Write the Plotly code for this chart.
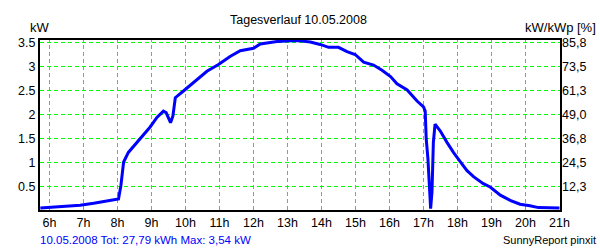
import plotly.graph_objects as go

# ---- data ----
hours = [5.73, 6.07, 6.41, 6.90, 7.30, 7.69, 8.03, 8.10, 8.18, 8.32, 8.57, 8.86, 8.96,
         9.16, 9.35, 9.43, 9.56, 9.63, 9.70, 9.94, 10.24, 10.63, 10.97, 11.31, 11.61,
         12.00, 12.20, 12.44, 12.69, 12.98, 13.30, 13.67, 13.96, 14.21, 14.50, 14.75,
         14.99, 15.24, 15.53, 15.78, 16.03, 16.22, 16.52, 16.81, 17.00, 17.05, 17.08,
         17.13, 17.18, 17.21, 17.25, 17.29, 17.34, 17.49, 17.69, 17.79, 17.88, 18.08,
         18.28, 18.48, 18.76, 18.96, 19.26, 19.55, 19.84, 20.13, 20.38, 21.00]
power_kw = [0.05, 0.07, 0.09, 0.11, 0.15, 0.19, 0.24, 0.52, 1.01, 1.21, 1.42, 1.68, 1.74,
            1.94, 2.07, 2.04, 1.83, 1.97, 2.35, 2.49, 2.66, 2.90, 3.04, 3.21, 3.33,
            3.38, 3.47, 3.50, 3.52, 3.53, 3.54, 3.51, 3.46, 3.40, 3.40, 3.31,
            3.25, 3.09, 3.03, 2.92, 2.79, 2.64, 2.51, 2.28, 2.16, 2.07, 1.49,
            1.08, 0.39, 0.04, 0.39, 1.42, 1.80, 1.66, 1.42, 1.30, 1.21, 1.02,
            0.83, 0.70, 0.56, 0.49, 0.32, 0.21, 0.13, 0.10, 0.06, 0.05]

x_tickvals = [6, 7, 8, 9, 10, 11, 12, 13, 14, 15, 16, 17, 18, 19, 20, 21]
x_ticktext = ["6h", "7h", "8h", "9h", "10h", "11h", "12h", "13h", "14h", "15h",
              "16h", "17h", "18h", "19h", "20h", "21h"]
y_tickvals = [0.5, 1, 1.5, 2, 2.5, 3, 3.5]
y_ticktext = ["0.5", "1", "1.5", "2", "2.5", "3", "3.5"]
y2_ticktext = ["12,3", "24,5", "36,8", "49,0", "61,3", "73,5", "85,8"]

title_text = "Tagesverlauf 10.05.2008"
footer_left = "10.05.2008 Tot: 27,79 kWh Max: 3,54 kW"
footer_right = "SunnyReport pinxit"

FONT = "Arial, 'Liberation Sans', sans-serif"
# ranges chosen so grid lines land on pixel centres (34 px/h, 48 px/kW)
X_RANGE = [6 - 9.5 / 34, 6 - 9.5 / 34 + 520 / 34]
Y_RANGE = [3.5 - 167.5 / 48, 3.5 + 2.5 / 48]
GRID = dict(color="#00FF00", width=1, dash="4px,3px")

fig = go.Figure()
fig.add_trace(go.Scatter(x=hours, y=power_kw, mode="lines",
                         line=dict(color="#0000FF", width=3),
                         showlegend=False, hoverinfo="skip"))

shapes = []
for xv in x_tickvals[:-1]:
    shapes.append(dict(type="line", xref="x", yref="paper", x0=xv, x1=xv, y0=0, y1=1,
                       line=GRID, layer="below"))
for yv in y_tickvals:
    shapes.append(dict(type="line", xref="paper", yref="y", x0=0, x1=1, y0=yv, y1=yv,
                       line=GRID, layer="below"))

annotations = [
    dict(text=title_text, xref="paper", yref="paper", x=0.4975, y=1 + 20 / 170,
         xanchor="center", yanchor="middle", showarrow=False,
         font=dict(size=12.5, color="black")),
    dict(text="kW", xref="paper", yref="paper", x=0.0, y=1 + 13 / 170,
         xanchor="center", yanchor="middle", showarrow=False,
         font=dict(size=13, color="black")),
    dict(text="kW/kWp [%]", xref="paper", yref="paper", x=1.0, y=1 + 13 / 170,
         xanchor="center", yanchor="middle", showarrow=False,
         font=dict(size=13, color="black")),
    dict(text=footer_left, xref="paper", yref="paper", x=0.0, y=-29.5 / 170,
         xanchor="left", yanchor="middle", showarrow=False, xshift=-2,
         font=dict(size=11.5, color="#0000FF")),
    dict(text=footer_right, xref="paper", yref="paper", x=(597.5 - 40) / 520,
         y=-30 / 170, xanchor="right", yanchor="middle", showarrow=False,
         font=dict(size=11, color="black")),
]
for v, t in zip(y_tickvals, y2_ticktext):
    annotations.append(dict(text=t, xref="paper", yref="y", x=1.0, y=v,
                            xanchor="left", yanchor="middle", showarrow=False,
                            font=dict(size=12.5, color="black")))

fig.update_layout(
    width=600, height=250,
    margin=dict(l=40, r=40, t=40, b=40),
    paper_bgcolor="white", plot_bgcolor="white",
    font=dict(family=FONT, size=12.5, color="black"),
    xaxis=dict(range=X_RANGE, tickmode="array", tickvals=x_tickvals,
               ticktext=x_ticktext, showline=True, linecolor="black", linewidth=2,
               mirror=True, zeroline=False, ticks="", showgrid=False),
    yaxis=dict(range=Y_RANGE, tickmode="array", tickvals=y_tickvals,
               ticktext=y_ticktext, showline=True, linecolor="black", linewidth=2,
               mirror=True, zeroline=False, ticks="", showgrid=False),
    shapes=shapes,
    annotations=annotations,
)

fig.write_html("out.html")
